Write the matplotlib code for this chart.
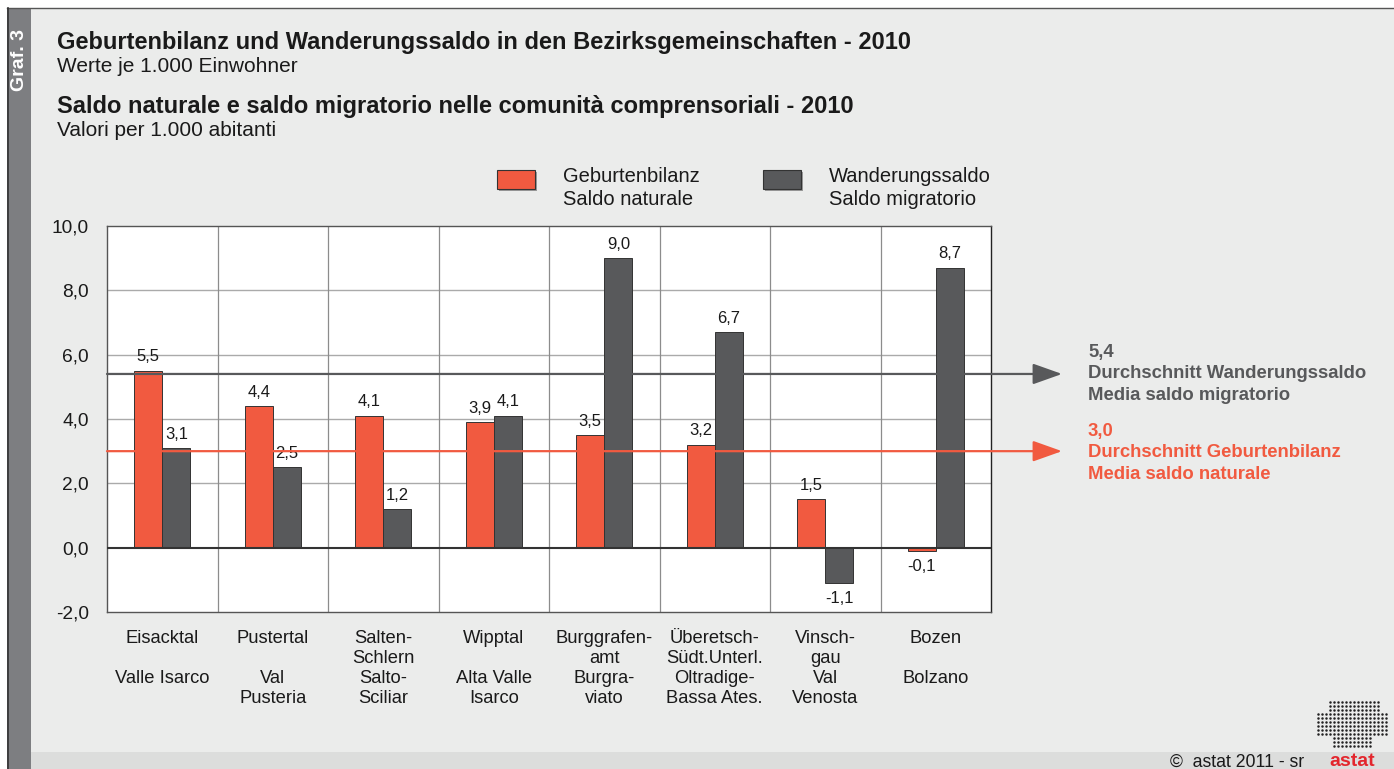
import matplotlib
matplotlib.use("Agg")
import matplotlib.pyplot as plt
from matplotlib.patches import Rectangle
import numpy as np

plt.rcParams["font.family"] = ["Liberation Sans", "DejaVu Sans"]

# data
regions_de = ["Eisacktal", "Pustertal", "Salten-\nSchlern", "Wipptal",
              "Burggrafen-\namt", "Überetsch-\nSüdt.Unterl.", "Vinsch-\ngau", "Bozen"]
regions_it = ["Valle Isarco", "Val\nPusteria", "Salto-\nSciliar", "Alta Valle\nIsarco",
              "Burgra-\nviato", "Oltradige-\nBassa Ates.", "Val\nVenosta", "Bolzano"]
natural = [5.5, 4.4, 4.1, 3.9, 3.5, 3.2, 1.5, -0.1]
migration = [3.1, 2.5, 1.2, 4.1, 9.0, 6.7, -1.1, 8.7]
avg_natural = 3.0
avg_migration = 5.4
y_ticks = [-2.0, 0.0, 2.0, 4.0, 6.0, 8.0, 10.0]

RED = "#f15a40"
DARK = "#58595b"
BG = "#ebeceb"
TXT = "#1a1a1a"
W, H = 1394, 769


def fx(px):
    return px / W


def fy(py):
    return 1 - py / H


def fmt(v):
    return f"{v:.1f}".replace(".", ",")


fig = plt.figure(figsize=(W / 100, H / 100), dpi=100)
fig.patch.set_facecolor("white")

# panel background, side strip, footer band
fig.patches.append(Rectangle((fx(7), 0), 1 - fx(7), fy(8), transform=fig.transFigure,
                             facecolor=BG, edgecolor="none", zorder=-10))
fig.add_artist(plt.Line2D([fx(7), 1], [fy(8), fy(8)], color="#555555", lw=1.0, transform=fig.transFigure))
fig.patches.append(Rectangle((fx(7), 0), fx(24), fy(8), transform=fig.transFigure,
                             facecolor="#7d7e81", edgecolor="none", zorder=-9))
fig.add_artist(plt.Line2D([fx(7.5), fx(7.5)], [0, fy(8)], color="#333333", lw=1.2, transform=fig.transFigure))
fig.patches.append(Rectangle((fx(31), 0), 1 - fx(31), fy(752), transform=fig.transFigure,
                             facecolor="#dcdddc", edgecolor="none", zorder=-9))
fig.text(fx(19), fy(60), "Graf. 3", rotation=90, color="white", fontsize=14,
         fontweight="bold", ha="center", va="center")

# titles
fig.text(fx(57), fy(42), "Geburtenbilanz und Wanderungssaldo in den Bezirksgemeinschaften - 2010",
         fontsize=17, fontweight="bold", color=TXT, va="center")
fig.text(fx(57), fy(66), "Werte je 1.000 Einwohner", fontsize=15, color=TXT, va="center")
fig.text(fx(57), fy(107), "Saldo naturale e saldo migratorio nelle comunità comprensoriali - 2010",
         fontsize=17, fontweight="bold", color=TXT, va="center")
fig.text(fx(57), fy(131), "Valori per 1.000 abitanti", fontsize=15, color=TXT, va="center")

# legend
for x0, col, txt in [(497, RED, "Geburtenbilanz\nSaldo naturale"),
                     (763, DARK, "Wanderungssaldo\nSaldo migratorio")]:
    fig.patches.append(Rectangle((fx(x0 + 2), fy(191)), fx(38), 1 - fy(19), transform=fig.transFigure,
                                 facecolor="#9a9a9a", edgecolor="none", zorder=1))
    fig.patches.append(Rectangle((fx(x0), fy(189)), fx(38), 1 - fy(19), transform=fig.transFigure,
                                 facecolor=col, edgecolor="#333333", lw=0.8, zorder=2))
    fig.text(fx(x0 + 66), fy(188), txt, fontsize=14.5, color=TXT, va="center", linespacing=1.23)

# axes
ax = fig.add_axes([fx(107), fy(612), fx(991 - 107), fy(226) - fy(612)])
ax.set_facecolor("white")
x = np.arange(len(natural))
bw = 0.255
ax.bar(x - bw / 2, natural, bw, color=RED, edgecolor="#333333", lw=0.7, zorder=3)
ax.bar(x + bw / 2, migration, bw, color=DARK, edgecolor="#333333", lw=0.7, zorder=3)

ax.set_xlim(-0.5, len(natural) - 0.5)
ax.set_ylim(-2, 10)
ax.set_yticks(y_ticks)
ax.set_yticklabels([fmt(v) for v in y_ticks], fontsize=13.8, color=TXT)
ax.tick_params(axis="y", length=0, pad=13)
ax.set_xticks([])
for yv in y_ticks[2:-1]:
    ax.axhline(yv, color="#aaaaaa", lw=1.0, zorder=1)
for xv in x[:-1] + 0.5:
    ax.axvline(xv, color="#8c8c8c", lw=0.9, zorder=1)
ax.axhline(0, color="#333333", lw=1.5, zorder=4)
for s in ax.spines.values():
    s.set_color("#555555")
    s.set_linewidth(1.0)
ax.spines["right"].set_color("#222222")

# value labels
for xs, vals in [(x - bw / 2, natural), (x + bw / 2, migration)]:
    for xi, v in zip(xs, vals):
        ax.text(xi, v + (0.2 if v >= 0 else -0.25), fmt(v), ha="center",
                va="bottom" if v >= 0 else "top", fontsize=12, color=TXT, zorder=5)

# category labels
for xi, de, it in zip(x, regions_de, regions_it):
    top_de = de if "\n" in de else de + "\n"
    ax.text(xi, -2.55, top_de + "\n" + it, ha="center", va="top", fontsize=13.2,
            color=TXT, linespacing=1.25)

# average lines with arrows
for val, col in [(avg_migration, DARK), (avg_natural, RED)]:
    ax.annotate("", xy=(fx(1062), val), xycoords=("figure fraction", "data"),
                xytext=(-0.5, val), textcoords="data",
                arrowprops=dict(arrowstyle="-|>,head_length=0.9,head_width=0.32",
                                mutation_scale=20, color=col, lw=1.6, shrinkA=0, shrinkB=0),
                zorder=6, annotation_clip=False)

fig.text(fx(1088), fy(344), fmt(avg_migration) + "\nDurchschnitt Wanderungssaldo\nMedia saldo migratorio",
         fontsize=13.3, fontweight="bold", color=DARK, va="top", linespacing=1.34)
fig.text(fx(1088), fy(423), fmt(avg_natural) + "\nDurchschnitt Geburtenbilanz\nMedia saldo naturale",
         fontsize=13.3, fontweight="bold", color=RED, va="top", linespacing=1.34)

# footer
fig.text(fx(1170), fy(762), "©  astat 2011 - sr", fontsize=12.7, color=TXT, va="center")
fig.text(fx(1352), fy(762), "astat", fontsize=14, fontweight="bold", color="#e3262d",
         va="center", ha="center")
gx, gy = np.meshgrid(np.arange(1318, 1390, 4.0), np.arange(702, 750, 4.0))
keep = ((gy > 712) | ((gx > 1326) & (gx < 1380))) & ((gy < 736) | ((gx > 1330) & (gx < 1372)))
fig.add_artist(plt.Line2D(gx[keep] / W, 1 - gy[keep] / H, ls="none", marker="o",
                          ms=1.8, mew=0, color="#222222", transform=fig.transFigure))

fig.savefig("out.png", dpi=100, facecolor=fig.get_facecolor())
